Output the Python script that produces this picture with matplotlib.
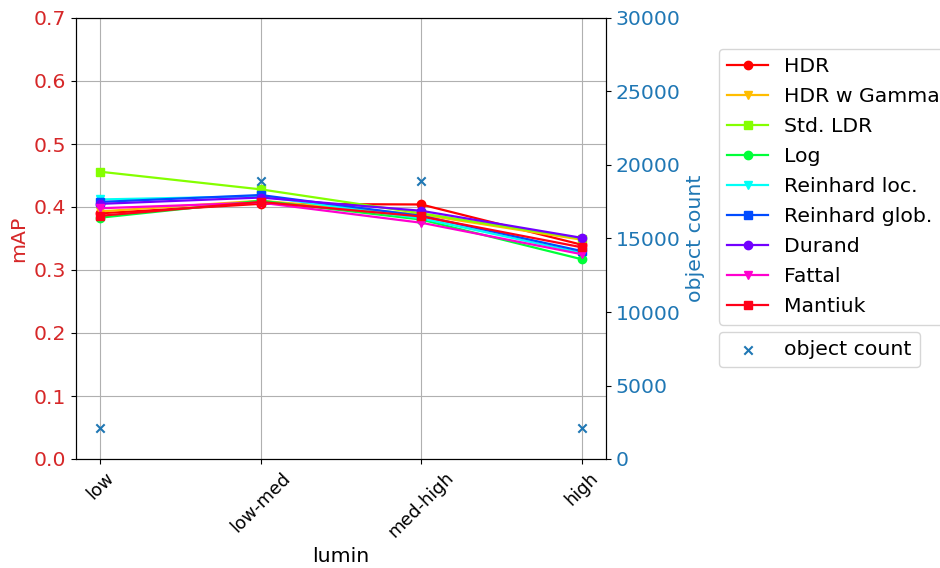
import matplotlib
matplotlib.use("Agg")
import matplotlib.pyplot as plt
import numpy as np

categories = ["low", "low-med", "med-high", "high"]
methods = ["HDR", "HDR w Gamma", "Std. LDR", "Log", "Reinhard loc.",
           "Reinhard glob.", "Durand", "Fattal", "Mantiuk"]
hdr = [0.390, 0.405, 0.404, 0.340]
hdr_gamma = [0.393, 0.410, 0.388, 0.348]
std_ldr = [0.456, 0.428, 0.390, 0.350]
log = [0.383, 0.410, 0.380, 0.317]
reinhard_loc = [0.412, 0.417, 0.382, 0.327]
reinhard_glob = [0.408, 0.419, 0.386, 0.330]
durand = [0.405, 0.415, 0.394, 0.351]
fattal = [0.398, 0.407, 0.375, 0.325]
mantiuk = [0.386, 0.408, 0.385, 0.336]
object_count = [2100, 18900, 18900, 2100]

series = [hdr, hdr_gamma, std_ldr, log, reinhard_loc, reinhard_glob,
          durand, fattal, mantiuk]
markers = ["o", "v", "s"] * 3
colors = plt.cm.hsv(np.linspace(0, 1, 9))

FS = 14.7
fig = plt.figure(figsize=(9.4, 5.68), dpi=100)
ax = fig.add_axes([76/940, 1-459/568, 530/940, 441/568])
x = np.arange(len(categories))
lines = []
for vals, name, m, c in zip(series, methods, markers, colors):
    l, = ax.plot(x, vals, marker=m, color=c, label=name, linewidth=1.6)
    lines.append(l)
ax.set_ylim(0, 0.7)
ax.set_xticks(x)
ax.set_xticklabels(categories, rotation=45, fontsize=12.8)
ax.set_xlabel("lumin", fontsize=FS)
ax.set_ylabel("mAP", color="tab:red", fontsize=FS)
ax.tick_params(axis="y", labelcolor="tab:red", labelsize=FS)
ax.grid(True)

ax2 = ax.twinx()
sc = ax2.scatter(x, object_count, marker="x", color="tab:blue", label="object count")
ax2.set_ylim(0, 30000)
ax2.set_ylabel("object count", color="tab:blue", fontsize=FS)
ax2.tick_params(axis="y", labelcolor="tab:blue", labelsize=FS)

leg1 = fig.legend(handles=lines, loc="upper left", borderaxespad=0,
                  bbox_to_anchor=(719/940, 1-49/568), fontsize=FS,
                  labelspacing=0.54)
leg2 = fig.legend(handles=[sc], loc="upper left", borderaxespad=0,
                  bbox_to_anchor=(719/940, 1-332/568), fontsize=FS)

fig.savefig("out.png", dpi=100)
